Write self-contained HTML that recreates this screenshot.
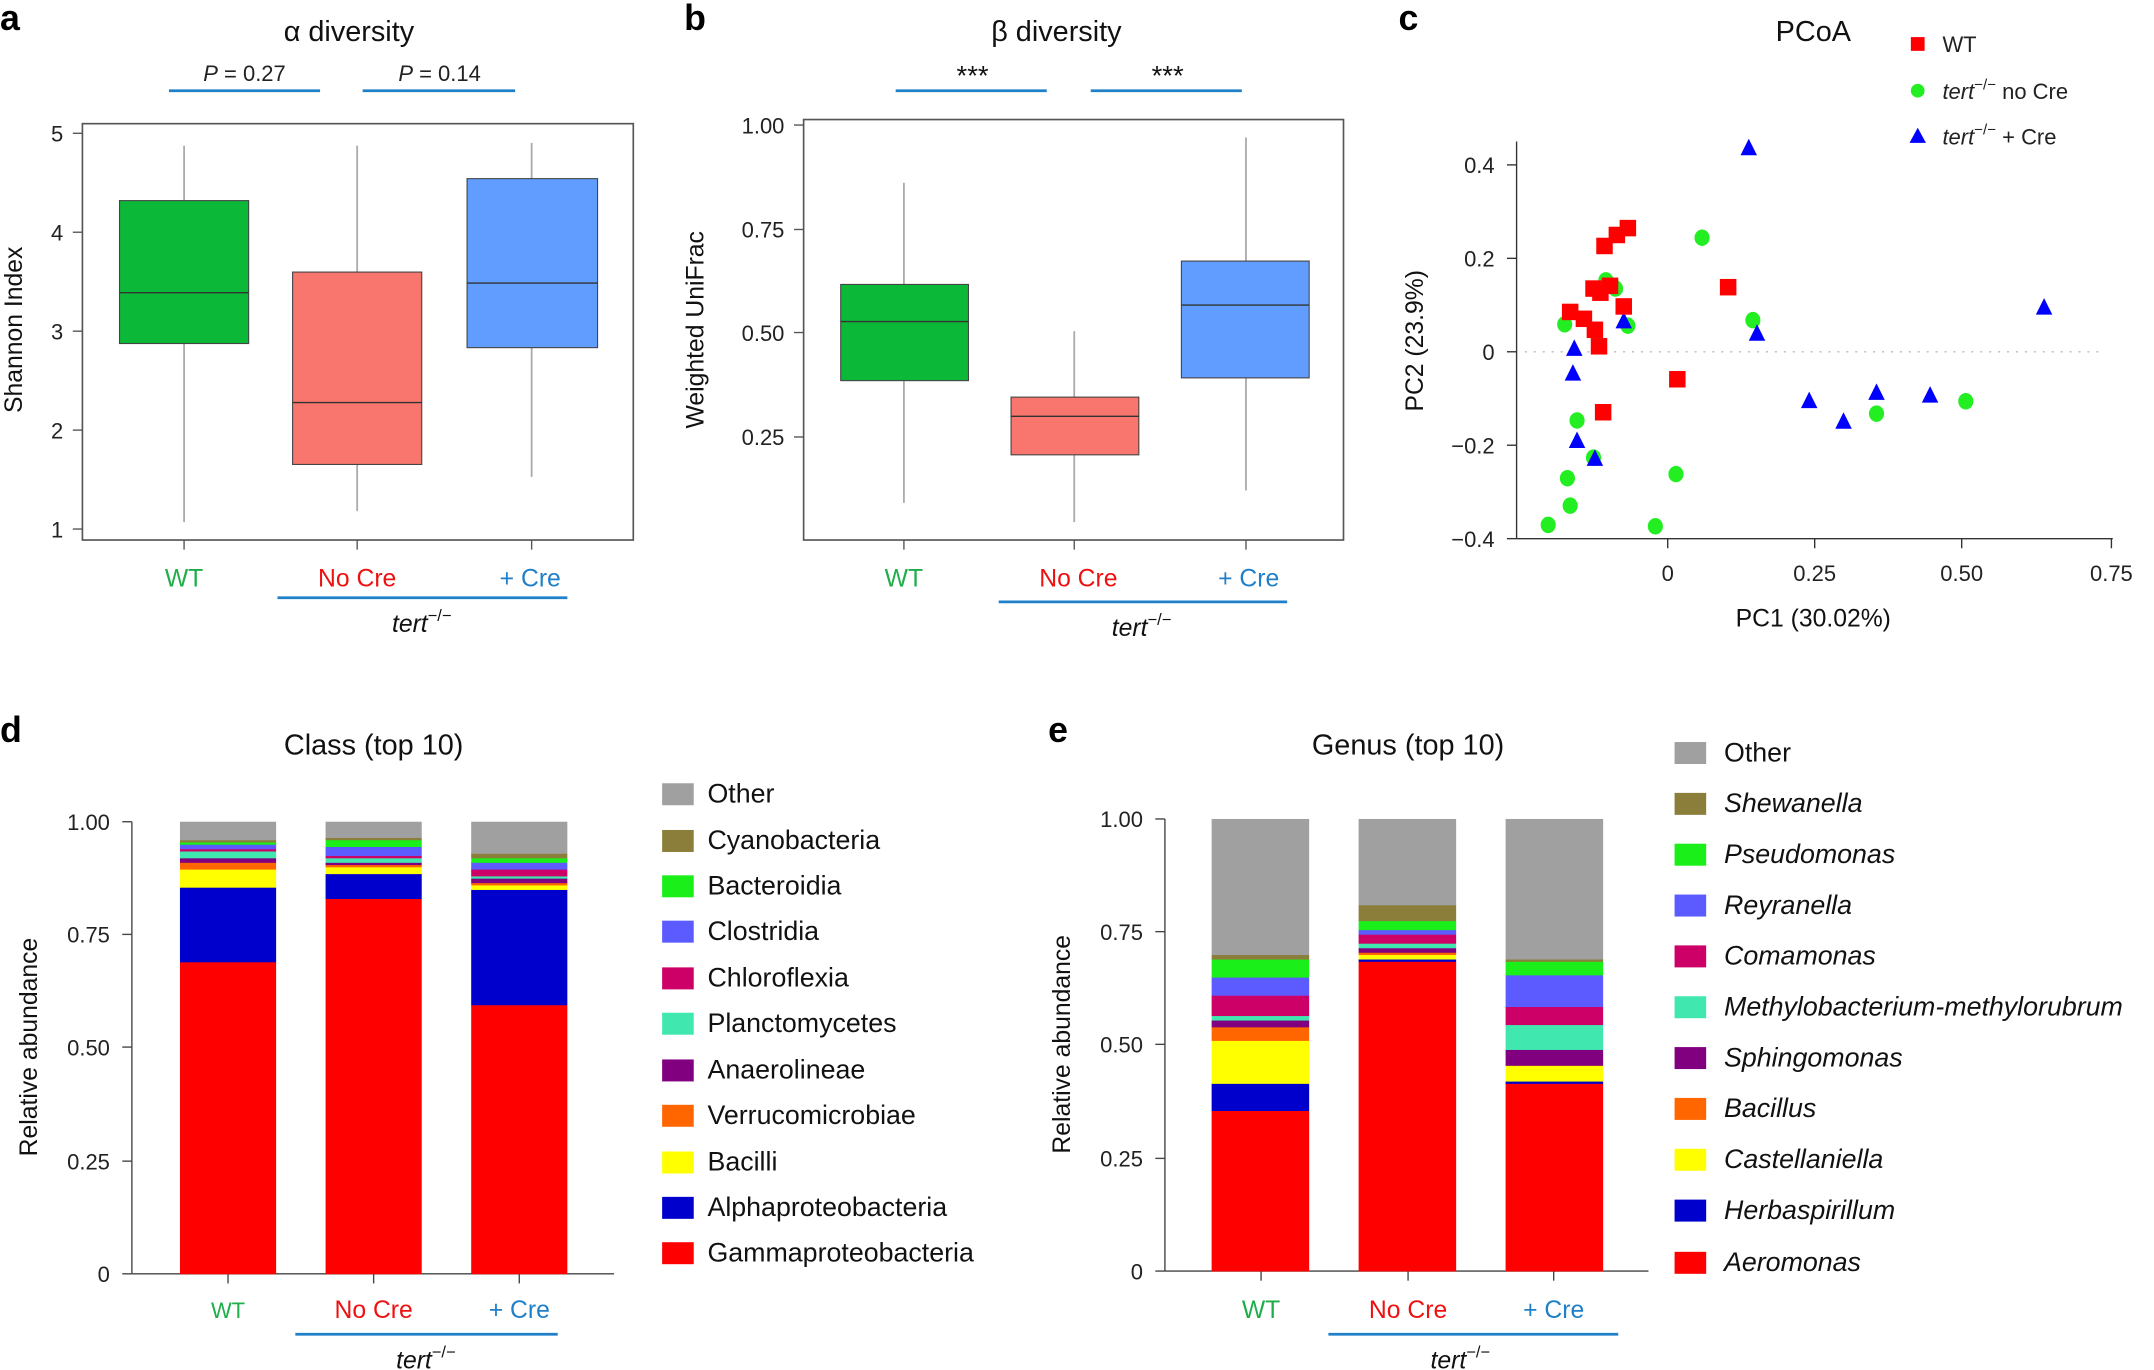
<!DOCTYPE html>
<html><head><meta charset="utf-8"><style>
html,body{margin:0;padding:0;background:#fff}
svg{display:block;font-family:"Liberation Sans",sans-serif}
.t{font-size:16px;fill:#222}
.ti{font-size:21px;fill:#111}
.lab{font-size:18px;fill:#111}
.lg{font-size:19.5px;fill:#111}
.L{font-size:26px;font-weight:bold;fill:#000}
</style></head><body>
<svg id="s" width="2154" height="1370" viewBox="0 0 1568 997" preserveAspectRatio="none" xmlns="http://www.w3.org/2000/svg">
<text class="L" x="0" y="22">a</text><text class="L" x="498" y="22">b</text><text class="L" x="1018" y="22">c</text>
<text class="L" x="0" y="540">d</text><text class="L" x="763" y="540">e</text>

<!-- Panel a -->
<text class="ti" x="254" y="30" text-anchor="middle">α diversity</text>
<text class="t" x="178" y="59" text-anchor="middle"><tspan font-style="italic">P</tspan> = 0.27</text>
<text class="t" x="320" y="59" text-anchor="middle"><tspan font-style="italic">P</tspan> = 0.14</text>
<line x1="123" y1="66" x2="233" y2="66" stroke="#1f7fc8" stroke-width="2"/>
<line x1="264" y1="66" x2="375" y2="66" stroke="#1f7fc8" stroke-width="2"/>
<rect x="60" y="90" width="401" height="303" fill="none" stroke="#555" stroke-width="1.2"/>
<g stroke="#555"><line x1="53" y1="97" x2="60" y2="97"/><line x1="53" y1="169" x2="60" y2="169"/><line x1="53" y1="241" x2="60" y2="241"/><line x1="53" y1="313" x2="60" y2="313"/><line x1="53" y1="385" x2="60" y2="385"/>
<line x1="134" y1="393" x2="134" y2="400"/><line x1="260" y1="393" x2="260" y2="400"/><line x1="387" y1="393" x2="387" y2="400"/></g>
<g class="t" text-anchor="end"><text x="46" y="103">5</text><text x="46" y="175">4</text><text x="46" y="247">3</text><text x="46" y="319">2</text><text x="46" y="391">1</text></g>
<text class="lab" transform="translate(16,240) rotate(-90)" text-anchor="middle">Shannon Index</text>
<g stroke="#aaa" stroke-width="1.3"><line x1="134" y1="106" x2="134" y2="380"/><line x1="260" y1="106" x2="260" y2="372"/><line x1="387" y1="104" x2="387" y2="347"/></g>
<rect x="87" y="146" width="94" height="104" fill="#0cb838" stroke="#444" stroke-width="0.8"/><line x1="87" y1="213" x2="181" y2="213" stroke="#333"/>
<rect x="213" y="198" width="94" height="140" fill="#f8766d" stroke="#444" stroke-width="0.8"/><line x1="213" y1="293" x2="307" y2="293" stroke="#333"/>
<rect x="340" y="130" width="95" height="123" fill="#619cff" stroke="#444" stroke-width="0.8"/><line x1="340" y1="206" x2="435" y2="206" stroke="#333"/>
<text class="lab" x="134" y="427" style="fill:#1fae4a" text-anchor="middle">WT</text>
<text class="lab" x="260" y="427" style="fill:#ee1111" text-anchor="middle">No Cre</text>
<text class="lab" x="386" y="427" style="fill:#1f7fc8" text-anchor="middle">+ Cre</text>
<line x1="202" y1="435" x2="413" y2="435" stroke="#1f7fc8" stroke-width="2"/>
<text class="lab" x="307" y="460" text-anchor="middle"><tspan font-style="italic">tert</tspan><tspan font-size="12" dy="-8">−/−</tspan></text>

<!-- Panel b -->
<text class="ti" x="769" y="30" text-anchor="middle">β diversity</text>
<text x="708" y="62" text-anchor="middle" style="font-size:20px;fill:#111">***</text><text x="850" y="62" text-anchor="middle" style="font-size:20px;fill:#111">***</text>
<line x1="652" y1="66" x2="762" y2="66" stroke="#1f7fc8" stroke-width="2"/>
<line x1="794" y1="66" x2="904" y2="66" stroke="#1f7fc8" stroke-width="2"/>
<rect x="585" y="87" width="393" height="306" fill="none" stroke="#555" stroke-width="1.2"/>
<g stroke="#555"><line x1="578" y1="91" x2="585" y2="91"/><line x1="578" y1="167" x2="585" y2="167"/><line x1="578" y1="242" x2="585" y2="242"/><line x1="578" y1="318" x2="585" y2="318"/>
<line x1="658" y1="393" x2="658" y2="400"/><line x1="782" y1="393" x2="782" y2="400"/><line x1="907" y1="393" x2="907" y2="400"/></g>
<g class="t" text-anchor="end"><text x="571" y="97">1.00</text><text x="571" y="173">0.75</text><text x="571" y="248">0.50</text><text x="571" y="324">0.25</text></g>
<text class="lab" transform="translate(512,240) rotate(-90)" text-anchor="middle">Weighted UniFrac</text>
<g stroke="#aaa" stroke-width="1.3"><line x1="658" y1="133" x2="658" y2="366"/><line x1="782" y1="241" x2="782" y2="380"/><line x1="907" y1="100" x2="907" y2="357"/></g>
<rect x="612" y="207" width="93" height="70" fill="#0cb838" stroke="#444" stroke-width="0.8"/><line x1="612" y1="234" x2="705" y2="234" stroke="#333"/>
<rect x="736" y="289" width="93" height="42" fill="#f8766d" stroke="#444" stroke-width="0.8"/><line x1="736" y1="303" x2="829" y2="303" stroke="#333"/>
<rect x="860" y="190" width="93" height="85" fill="#619cff" stroke="#444" stroke-width="0.8"/><line x1="860" y1="222" x2="953" y2="222" stroke="#333"/>
<text class="lab" x="658" y="427" style="fill:#1fae4a" text-anchor="middle">WT</text>
<text class="lab" x="785" y="427" style="fill:#ee1111" text-anchor="middle">No Cre</text>
<text class="lab" x="909" y="427" style="fill:#1f7fc8" text-anchor="middle">+ Cre</text>
<line x1="727" y1="438" x2="937" y2="438" stroke="#1f7fc8" stroke-width="2"/>
<text class="lab" x="831" y="463" text-anchor="middle"><tspan font-style="italic">tert</tspan><tspan font-size="12" dy="-8">−/−</tspan></text>

<!-- Panel c -->
<text class="ti" x="1320" y="30" text-anchor="middle">PCoA</text>
<rect x="1391" y="27" width="10" height="10" fill="#f00"/><text class="t" x="1414" y="38">WT</text>
<circle cx="1396" cy="66" r="5" fill="#22ee22"/><text class="t" x="1414" y="72"><tspan font-style="italic">tert</tspan><tspan font-size="11" dy="-7">−/−</tspan><tspan dy="7"> no Cre</tspan></text>
<polygon points="1396,93 1402,104 1390,104" fill="#00f"/><text class="t" x="1414" y="105"><tspan font-style="italic">tert</tspan><tspan font-size="11" dy="-7">−/−</tspan><tspan dy="7"> + Cre</tspan></text>
<g stroke="#333"><line x1="1104" y1="103" x2="1104" y2="392"/><line x1="1104" y1="392" x2="1538" y2="392"/>
<line x1="1097" y1="120" x2="1104" y2="120"/><line x1="1097" y1="188" x2="1104" y2="188"/><line x1="1097" y1="256" x2="1104" y2="256"/><line x1="1097" y1="324" x2="1104" y2="324"/><line x1="1097" y1="392" x2="1104" y2="392"/>
<line x1="1214" y1="392" x2="1214" y2="399"/><line x1="1321" y1="392" x2="1321" y2="399"/><line x1="1428" y1="392" x2="1428" y2="399"/><line x1="1537" y1="392" x2="1537" y2="399"/></g>
<line x1="1110" y1="256" x2="1530" y2="256" stroke="#bbb" stroke-dasharray="1.5,5"/>
<g class="t" text-anchor="end"><text x="1088" y="126">0.4</text><text x="1088" y="194">0.2</text><text x="1088" y="262">0</text><text x="1088" y="330">−0.2</text><text x="1088" y="398">−0.4</text></g>
<g class="t" text-anchor="middle"><text x="1214" y="423">0</text><text x="1321" y="423">0.25</text><text x="1428" y="423">0.50</text><text x="1537" y="423">0.75</text></g>
<text class="lab" x="1320" y="456" text-anchor="middle">PC1 (30.02%)</text>
<text class="lab" transform="translate(1036,248) rotate(-90)" text-anchor="middle">PC2 (23.9%)</text>
<g id="pts"></g>

<!-- Panel d -->
<text class="ti" x="272" y="549" text-anchor="middle">Class (top 10)</text>
<g stroke="#444"><line x1="96" y1="598" x2="96" y2="927"/><line x1="96" y1="927" x2="447" y2="927"/>
<line x1="89" y1="598" x2="96" y2="598"/><line x1="89" y1="680" x2="96" y2="680"/><line x1="89" y1="762" x2="96" y2="762"/><line x1="89" y1="845" x2="96" y2="845"/><line x1="89" y1="927" x2="96" y2="927"/>
<line x1="166" y1="927" x2="166" y2="934"/><line x1="272" y1="927" x2="272" y2="934"/><line x1="378" y1="927" x2="378" y2="934"/></g>
<g class="t" text-anchor="end"><text x="80" y="604">1.00</text><text x="80" y="686">0.75</text><text x="80" y="768">0.50</text><text x="80" y="851">0.25</text><text x="80" y="933">0</text></g>
<text class="lab" transform="translate(27,762) rotate(-90)" text-anchor="middle">Relative abundance</text>
<g id="barsd"></g>
<text x="166" y="959" style="fill:#1fae4a;font-size:16px" text-anchor="middle">WT</text>
<text class="lab" x="272" y="959" style="fill:#ee1111" text-anchor="middle">No Cre</text>
<text class="lab" x="378" y="959" style="fill:#1f7fc8" text-anchor="middle">+ Cre</text>
<line x1="215" y1="971" x2="406" y2="971" stroke="#1f7fc8" stroke-width="2"/>
<text class="lab" x="310" y="996" text-anchor="middle"><tspan font-style="italic">tert</tspan><tspan font-size="12" dy="-8">−/−</tspan></text>
<g id="legd"></g>
<g class="lg"><text x="515" y="584">Other</text><text x="515" y="618">Cyanobacteria</text><text x="515" y="651">Bacteroidia</text><text x="515" y="684">Clostridia</text><text x="515" y="718">Chloroflexia</text><text x="515" y="751">Planctomycetes</text><text x="515" y="785">Anaerolineae</text><text x="515" y="818">Verrucomicrobiae</text><text x="515" y="852">Bacilli</text><text x="515" y="885">Alphaproteobacteria</text><text x="515" y="918">Gammaproteobacteria</text></g>

<!-- Panel e -->
<text class="ti" x="1025" y="549" text-anchor="middle">Genus (top 10)</text>
<g stroke="#444"><line x1="848" y1="596" x2="848" y2="925"/><line x1="848" y1="925" x2="1200" y2="925"/>
<line x1="841" y1="596" x2="848" y2="596"/><line x1="841" y1="678" x2="848" y2="678"/><line x1="841" y1="760" x2="848" y2="760"/><line x1="841" y1="843" x2="848" y2="843"/><line x1="841" y1="925" x2="848" y2="925"/>
<line x1="918" y1="925" x2="918" y2="932"/><line x1="1025" y1="925" x2="1025" y2="932"/><line x1="1131" y1="925" x2="1131" y2="932"/></g>
<g class="t" text-anchor="end"><text x="832" y="602">1.00</text><text x="832" y="684">0.75</text><text x="832" y="766">0.50</text><text x="832" y="849">0.25</text><text x="832" y="931">0</text></g>
<text class="lab" transform="translate(779,760) rotate(-90)" text-anchor="middle">Relative abundance</text>
<g id="barse"></g>
<text class="lab" x="918" y="959" style="fill:#1fae4a" text-anchor="middle">WT</text>
<text class="lab" x="1025" y="959" style="fill:#ee1111" text-anchor="middle">No Cre</text>
<text class="lab" x="1131" y="959" style="fill:#1f7fc8" text-anchor="middle">+ Cre</text>
<line x1="967" y1="971" x2="1178" y2="971" stroke="#1f7fc8" stroke-width="2"/>
<text class="lab" x="1063" y="996" text-anchor="middle"><tspan font-style="italic">tert</tspan><tspan font-size="12" dy="-8">−/−</tspan></text>
<g id="lege"></g>
<g class="lg"><text x="1255" y="554">Other</text><g font-style="italic"><text x="1255" y="591">Shewanella</text><text x="1255" y="628">Pseudomonas</text><text x="1255" y="665">Reyranella</text><text x="1255" y="702">Comamonas</text><text x="1255" y="739">Methylobacterium-methylorubrum</text><text x="1255" y="776">Sphingomonas</text><text x="1255" y="813">Bacillus</text><text x="1255" y="850">Castellaniella</text><text x="1255" y="887">Herbaspirillum</text><text x="1255" y="925">Aeromonas</text></g></g>
</svg>
<script>
var NS="http://www.w3.org/2000/svg";
function el(p,t,a){var e=document.createElementNS(NS,t);for(var k in a)e.setAttribute(k,a[k]);p.appendChild(e);return e;}
var cols=["#ff0000","#0000cc","#ffff00","#ff6600","#800080","#40e8b0","#cc0066","#5b5bff","#1aef1a","#8b7d3a","#a0a0a0"];
function bars(g,y0,sc,xs,w,data){g=document.getElementById(g);xs.forEach(function(x,i){var prev=0;data[i].concat([1]).forEach(function(v,j){el(g,"rect",{x:x,y:y0-v*sc,width:w,height:(v-prev)*sc+0.3,fill:cols[j]});prev=v;});});}
bars("barsd",927,329,[131,237,343],70,[[0.69,0.855,0.895,0.91,0.92,0.935,0.94,0.95,0.955,0.96],[0.83,0.885,0.90,0.905,0.91,0.92,0.925,0.945,0.96,0.965],[0.595,0.85,0.86,0.865,0.875,0.88,0.895,0.91,0.92,0.93]]);
bars("barse",925,329,[882,989,1096],71,[[0.355,0.415,0.51,0.54,0.555,0.565,0.61,0.65,0.69,0.70],[0.685,0.69,0.70,0.705,0.715,0.725,0.745,0.755,0.775,0.81],[0.415,0.42,0.455,0.455,0.49,0.545,0.585,0.655,0.685,0.69]]);
function leg(g,x,ys){g=document.getElementById(g);ys.forEach(function(y,i){el(g,"rect",{x:x,y:y-8,width:23,height:16,fill:cols[10-i]});});}
leg("legd",482,[578,612,645,678,712,745,779,812,846,879,912]);
leg("lege",1219,[548,585,622,659,696,733,770,807,844,881,919]);
var P=document.getElementById("pts");
[[1239,173],[1169,204],[1176,210],[1139,236],[1185,237],[1276,233],[1148,306],[1160,333],[1220,345],[1141,348],[1143,368],[1127,382],[1205,383],[1366,301],[1431,292],[1174,208]].forEach(function(p){el(P,"ellipse",{cx:p[0],cy:p[1],rx:5.5,ry:6,fill:"#22ee22"});});
[[1273,108],[1488,224],[1279,243],[1182,234],[1146,254],[1145,272],[1148,321],[1161,334],[1317,292],[1342,307],[1366,286],[1405,288]].forEach(function(p){el(P,"polygon",{points:(p[0])+","+(p[1]-7)+" "+(p[0]+6)+","+(p[1]+5)+" "+(p[0]-6)+","+(p[1]+5),fill:"#0000ff"});});
[[1168,179],[1177,171],[1185,166],[1160,210],[1172,208],[1165,213],[1143,227],[1153,232],[1161,240],[1164,252],[1182,223],[1258,209],[1221,276],[1167,300]].forEach(function(p){el(P,"rect",{x:p[0]-6,y:p[1]-6,width:12,height:12,fill:"#ff0000"});});
</script>
</body></html>
